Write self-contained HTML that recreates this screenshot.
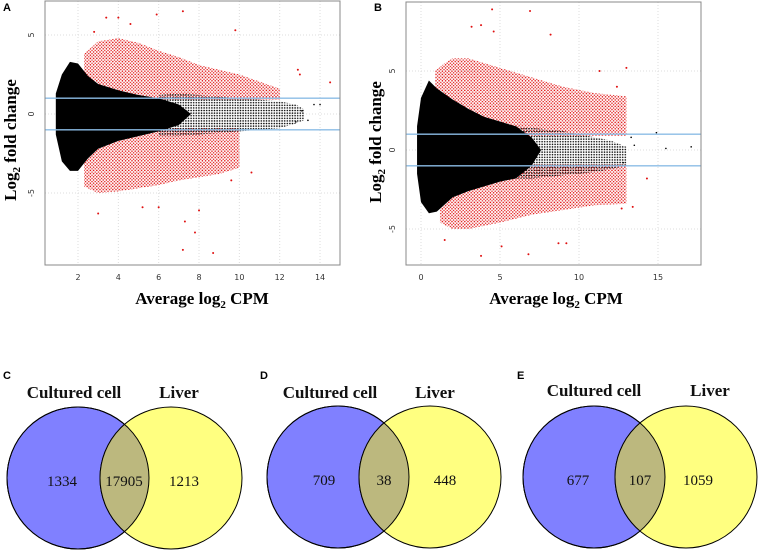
<!DOCTYPE html>
<html><head><meta charset="utf-8"><style>
body{margin:0;background:#fff;}
svg{display:block;}
.tk{font-family:"DejaVu Sans","Liberation Sans",sans-serif;font-size:8px;fill:#333;}
.ax{font-family:"Liberation Serif",serif;font-weight:bold;font-size:17px;fill:#000;}
.pl{font-family:"Liberation Sans",sans-serif;font-weight:bold;font-size:11px;fill:#000;}
.vl{font-family:"Liberation Serif",serif;font-weight:bold;font-size:17px;fill:#111;}
.vn{font-family:"Liberation Serif",serif;font-size:15px;fill:#111;}
</style></head><body>
<svg id="fig" width="758" height="552" viewBox="0 0 758 552">
<defs>
<pattern id="bdots" width="2.6" height="2.6" patternUnits="userSpaceOnUse"><circle cx="1.3" cy="1.3" r="0.8" fill="#000"/></pattern>
<pattern id="rdots" width="3.2" height="3.2" patternUnits="userSpaceOnUse"><circle cx="0.8" cy="0.8" r="0.8" fill="#e01010"/><circle cx="2.4" cy="2.4" r="0.7" fill="#e01010"/></pattern>
</defs>
<g id="plots"></g>
<text class="pl" x="3" y="11">A</text>
<text class="pl" x="374" y="11">B</text>
<text class="ax" x="202" y="304" text-anchor="middle">Average log<tspan font-size="11" dy="4">2</tspan><tspan dy="-4"> CPM</tspan></text>
<text class="ax" x="556" y="304" text-anchor="middle">Average log<tspan font-size="11" dy="4">2</tspan><tspan dy="-4"> CPM</tspan></text>
<text class="ax" transform="translate(16,140) rotate(-90)" text-anchor="middle">Log<tspan font-size="11" dy="4">2</tspan><tspan dy="-4"> fold change</tspan></text>
<text class="ax" transform="translate(381,142) rotate(-90)" text-anchor="middle">Log<tspan font-size="11" dy="4">2</tspan><tspan dy="-4"> fold change</tspan></text>

<g>
<text class="pl" x="3" y="379">C</text>
<circle cx="78" cy="478" r="71" fill="#8080ff" stroke="#000" stroke-width="1"/>
<circle cx="171" cy="478" r="71" fill="#ffff80" stroke="#000" stroke-width="1"/>
<clipPath id="cc"><circle cx="78" cy="478" r="71"/></clipPath>
<circle cx="171" cy="478" r="71" fill="#bcb87e" stroke="#000" clip-path="url(#cc)"/>
<circle cx="78" cy="478" r="71" fill="none" stroke="#000"/>
<text class="vl" x="74" y="398" text-anchor="middle">Cultured cell</text>
<text class="vl" x="179" y="398" text-anchor="middle">Liver</text>
<text class="vn" x="62" y="486" text-anchor="middle">1334</text>
<text class="vn" x="124" y="486" text-anchor="middle">17905</text>
<text class="vn" x="184" y="486" text-anchor="middle">1213</text>
</g>
<g>
<text class="pl" x="260" y="379">D</text>
<circle cx="338" cy="477" r="71" fill="#8080ff" stroke="#000"/>
<circle cx="430" cy="477" r="71" fill="#ffff80" stroke="#000"/>
<clipPath id="cd"><circle cx="338" cy="477" r="71"/></clipPath>
<circle cx="430" cy="477" r="71" fill="#bcb87e" stroke="#000" clip-path="url(#cd)"/>
<circle cx="338" cy="477" r="71" fill="none" stroke="#000"/>
<text class="vl" x="330" y="398" text-anchor="middle">Cultured cell</text>
<text class="vl" x="435" y="398" text-anchor="middle">Liver</text>
<text class="vn" x="324" y="485" text-anchor="middle">709</text>
<text class="vn" x="384" y="485" text-anchor="middle">38</text>
<text class="vn" x="445" y="485" text-anchor="middle">448</text>
</g>
<g>
<text class="pl" x="517" y="379">E</text>
<circle cx="594" cy="477" r="71" fill="#8080ff" stroke="#000"/>
<circle cx="686" cy="477" r="71" fill="#ffff80" stroke="#000"/>
<clipPath id="ce"><circle cx="594" cy="477" r="71"/></clipPath>
<circle cx="686" cy="477" r="71" fill="#bcb87e" stroke="#000" clip-path="url(#ce)"/>
<circle cx="594" cy="477" r="71" fill="none" stroke="#000"/>
<text class="vl" x="594" y="396" text-anchor="middle">Cultured cell</text>
<text class="vl" x="710" y="396" text-anchor="middle">Liver</text>
<text class="vn" x="578" y="485" text-anchor="middle">677</text>
<text class="vn" x="640" y="485" text-anchor="middle">107</text>
<text class="vn" x="698" y="485" text-anchor="middle">1059</text>
</g>
</svg>
<script>
// Panel A data
const aXTicks=[2,4,6,8,10,12,14];
const aYTicks=[-5,0,5];
const aCoreX=[0.9,1.2,1.6,2,2.5,3,4,5,6,7,7.6];
const aCoreUp=[1.3,2.5,3.3,3.2,2.4,1.9,1.5,1.2,1.0,0.6,0];
const aCoreLo=[-1.3,-3,-3.6,-3.6,-2.8,-2.2,-1.7,-1.4,-1.1,-0.7,0];
const aOutX=[6,7,8,9,10,11,12,12.8,13.2];
const aOutUp=[1.2,1.3,1.2,1.1,1.0,0.9,0.8,0.6,0.3];
const aOutLo=[-1.4,-1.4,-1.3,-1.2,-1.1,-1.0,-0.9,-0.6,-0.4];
const aRedUpX=[2.3,3,4,5,6,7,8,10,12];
const aRedUpTop=[3.8,4.6,4.8,4.5,4.0,3.6,3.1,2.5,1.6];
const aRedLoX=[2.3,3,4,5,6,7,8,9,10];
const aRedLoBot=[-4.6,-5.0,-4.9,-4.7,-4.5,-4.2,-4.0,-3.8,-3.4];
const aRedPts=[[2.8,5.2],[3.4,6.1],[4,6.1],[5.9,6.3],[7.2,6.5],[9.8,5.3],[4.6,5.7],[12.9,2.8],[13,2.5],[14.5,2],[3,-6.3],[7.2,-8.6],[8.7,-8.8],[7.8,-7.5],[7.3,-6.8],[8,-6.1],[10.6,-3.7],[9.6,-4.2],[5.2,-5.9],[6.0,-5.9]];
const aBlackPts=[[13.7,0.6],[14,0.6],[13.4,-0.4],[13.1,0.2],[12.8,-0.5]];
// Panel B data
const bXTicks=[0,5,10,15];
const bYTicks=[-5,0,5];
const bCoreX=[-0.25,0,0.5,1,2,3,4,5,6,7,7.6];
const bCoreUp=[1.5,3.3,4.4,3.9,3.2,2.6,2.1,1.8,1.5,0.8,0];
const bCoreLo=[-1.5,-3.3,-4.0,-3.9,-3.0,-2.6,-2.3,-2.0,-1.8,-1.0,0];
const bOutX=[6,7,8,9,10,11,12,13];
const bOutUp=[1.5,1.4,1.3,1.2,1.0,0.8,0.6,0.2];
const bOutLo=[-1.8,-1.8,-1.7,-1.6,-1.5,-1.4,-1.2,-1.0];
const bRedUpX=[0.9,1.5,2,3,5,7,9,11,13];
const bRedUpTop=[5.0,5.5,5.8,5.8,5.2,4.6,4.0,3.6,3.4];
const bRedLoX=[1.2,2,3,5,7,9,11,13];
const bRedLoBot=[-4.6,-5.0,-5.0,-4.6,-4.1,-3.8,-3.5,-3.4];
const bRedPts=[[4.5,8.9],[6.9,8.8],[3.2,7.8],[3.8,7.9],[8.2,7.3],[4.6,7.5],[13,5.2],[14.3,-1.8],[3.8,-6.7],[6.8,-6.6],[5.1,-6.1],[8.7,-5.9],[9.2,-5.9],[13.4,-3.6],[12.7,-3.7],[1.5,-5.7],[11.3,5],[12.4,4]];
const bBlackPts=[[14.9,1.1],[15.5,0.1],[17.1,0.2],[13.3,0.8],[13.5,0.3],[12.8,-0.8]];

const NS='http://www.w3.org/2000/svg';
const root=document.getElementById('plots');
function mk(t,attrs,parent){const e=document.createElementNS(NS,t);for(const k in attrs)e.setAttribute(k,attrs[k]);(parent||root).appendChild(e);return e;}

function panel(cfg){
  const g=mk('g',{});
  
  
  const sx=v=>cfg.x0px+(v-cfg.x0v)*cfg.kx;
  const sy=v=>cfg.y0px-v*cfg.ky;
  cfg.xt.forEach(t=>{const l=mk('line',{x1:sx(t),x2:sx(t),y1:cfg.top,y2:cfg.bot,stroke:'#ddd','stroke-dasharray':'1,2'},g);
    });
  cfg.yt.forEach(t=>{const l=mk('line',{x1:cfg.left,x2:cfg.right,y1:sy(t),y2:sy(t),stroke:'#ddd','stroke-dasharray':'1,2'},g);
    });
  function area(xs,up,lo,fill,nm){
    let d='M'+xs.map((x,i)=>sx(x)+','+sy(up[i])).join(' L');
    d+=' L'+xs.map((x,i)=>sx(x)+','+sy(lo[i])).reverse().join(' L')+'Z';
    const p=mk('path',{d:d,fill:fill},g);
    
  }
  area(cfg.ruX,cfg.ruT,cfg.ruX.map(()=>0.9),'url(#rdots)','red-points-up');
  area(cfg.rlX,cfg.rlX.map(()=>-0.9),cfg.rlB,'url(#rdots)','red-points-down');
  area(cfg.oX,cfg.oU,cfg.oL,'url(#bdots)','black-points-sparse');
  area(cfg.cX,cfg.cU,cfg.cL,'#000','black-points-dense');
  cfg.rp.forEach(p=>{const c=mk('circle',{cx:sx(p[0]),cy:sy(p[1]),r:1,fill:'#e01010'},g);
    });
  cfg.bp.forEach(p=>{const c=mk('circle',{cx:sx(p[0]),cy:sy(p[1]),r:0.8,fill:'#000'},g);
    });
  [1,-1].forEach(v=>{const l=mk('line',{x1:cfg.left,x2:cfg.right,y1:sy(v),y2:sy(v),stroke:'#8cbde6','stroke-width':1.3},g);
    });
  const b=mk('rect',{x:cfg.left,y:cfg.top,width:cfg.right-cfg.left,height:cfg.bot-cfg.top,fill:'none',stroke:'#888'},g);
  
  cfg.xt.forEach(t=>{const l=mk('text',{x:sx(t),y:cfg.bot+15,'text-anchor':'middle',class:'tk'},g);l.textContent=t;
    });
  cfg.yt.forEach(t=>{const l=mk('text',{transform:'translate('+(cfg.left-11)+','+sy(t)+') rotate(-90)','text-anchor':'middle',class:'tk'},g);l.textContent=t;
    });
}
panel({name:'ma-plot-a',left:45,right:340,top:1,bot:265,x0v:2,x0px:78,kx:20.17,y0px:114,ky:15.8,
  xt:aXTicks,yt:aYTicks,cX:aCoreX,cU:aCoreUp,cL:aCoreLo,oX:aOutX,oU:aOutUp,oL:aOutLo,
  ruX:aRedUpX,ruT:aRedUpTop,rlX:aRedLoX,rlB:aRedLoBot,rp:aRedPts,bp:aBlackPts});
panel({name:'ma-plot-b',left:406,right:701,top:2,bot:265,x0v:0,x0px:421,kx:15.8,y0px:150,ky:15.8,
  xt:bXTicks,yt:bYTicks,cX:bCoreX,cU:bCoreUp,cL:bCoreLo,oX:bOutX,oU:bOutUp,oL:bOutLo,
  ruX:bRedUpX,ruT:bRedUpTop,rlX:bRedLoX,rlB:bRedLoBot,rp:bRedPts,bp:bBlackPts});
</script>
</body></html>
